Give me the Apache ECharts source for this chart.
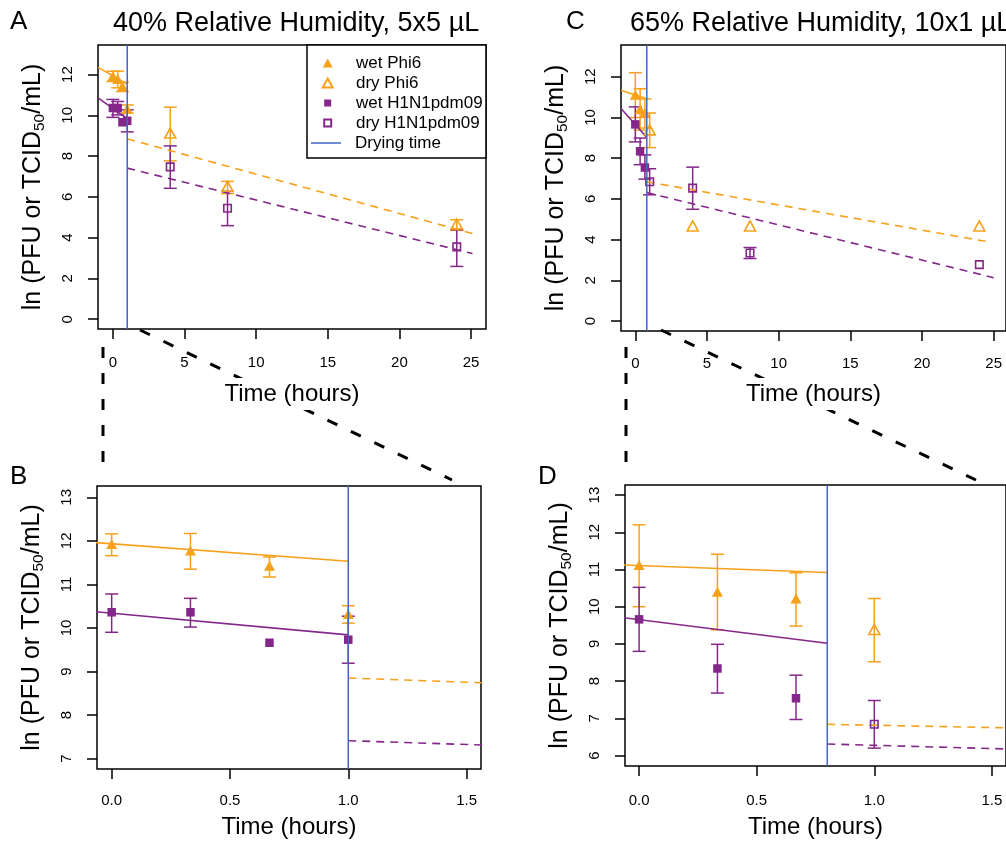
<!DOCTYPE html>
<html>
<head>
<meta charset="utf-8">
<script src="https://cdn.jsdelivr.net/npm/echarts@6/dist/echarts.min.js"></script>
<style>
html,body{margin:0;padding:0;background:#fff;}
#chart{width:1006px;height:841px;}
</style>
</head>
<body>
<div id="chart"></div>
<script>
// ---------------- DATA ----------------
// rows: [time (hours), ln titre, lower error, upper error]
// 40% RH, 5x5 µL  (panels A and B)
const rh40WetPhi6 = [[0, 11.93, 11.66, 12.16], [0.333, 11.78, 11.35, 12.17], [0.667, 11.43, 11.17, 11.63], [1, 10.32, 10.11, 10.51]];
const rh40DryPhi6 = [[4, 9.13, 7.77, 10.40], [8, 6.52, 6.16, 6.76], [24, 4.67, 4.36, 4.88]];
const rh40WetH1N1 = [[0, 10.36, 9.90, 10.78], [0.333, 10.36, 10.02, 10.68], [0.667, 9.66, null, null], [1, 9.73, 9.19, 10.27]];
const rh40DryH1N1 = [[4, 7.47, 6.42, 8.50], [8, 5.44, 4.59, 6.27], [24, 3.55, 2.59, 4.39]];
// fitted decay lines: [time, value] end points
const rh40WetPhi6Fit = [[-1.04, 12.35], [1, 11.53]];
const rh40WetH1N1Fit = [[-1.04, 10.86], [1, 9.84]];
const rh40DryPhi6Fit = [[1, 8.85], [25.1, 4.20]];
const rh40DryH1N1Fit = [[1, 7.41], [25.1, 3.22]];
const rh40DryingTime = 1.0;

// 65% RH, 10x1 µL  (panels C and D)
const rh65WetPhi6 = [[0, 11.12, 10.00, 12.20], [0.333, 10.40, 9.38, 11.41], [0.667, 10.22, 9.48, 10.91]];
const rh65DryPhi6 = [[1, 9.39, 8.52, 10.22], [4, 4.67, null, null], [8, 4.67, null, null], [24, 4.67, null, null]];
const rh65WetH1N1 = [[0, 9.66, 8.80, 10.52], [0.333, 8.34, 7.68, 8.99], [0.667, 7.54, 6.97, 8.16]];
const rh65DryH1N1 = [[1, 6.84, 6.20, 7.48], [4, 6.53, 5.49, 7.56], [8, 3.34, 3.07, 3.61], [24, 2.77, null, null]];
const rh65WetPhi6Fit = [[-1, 11.34], [0.8, 10.92]];
const rh65WetH1N1Fit = [[-1, 10.44], [0.8, 9.02]];
const rh65DryPhi6Fit = [[0.8, 6.84], [24.8, 3.87]];
const rh65DryH1N1Fit = [[0.8, 6.31], [25, 2.13]];
const rh65DryingTime = 0.8;

// ticks and labels
const xTicksLong = [0, 5, 10, 15, 20, 25];
const xTicksShort = [0, 0.5, 1, 1.5];
const yTicksA = [0, 2, 4, 6, 8, 10, 12];
const yTicksB = [7, 8, 9, 10, 11, 12, 13];
const yTicksC = [0, 2, 4, 6, 8, 10, 12];
const yTicksD = [6, 7, 8, 9, 10, 11, 12, 13];
const panelTitles = ['40% Relative Humidity, 5x5 µL', '65% Relative Humidity, 10x1 µL'];
const panelLetters = ['A', 'B', 'C', 'D'];
const legendNames = ['wet Phi6', 'dry Phi6', 'wet H1N1pdm09', 'dry H1N1pdm09', 'Drying time'];
const xAxisTitle = 'Time (hours)';

// ---------------- STYLE / LAYOUT ----------------
const ORANGE = '#F7A11A', PURPLE = '#84278A', BLUE = '#4565C0';
const FONT = '"Liberation Sans", Arial, Helvetica, sans-serif';

const rh40 = {wp: rh40WetPhi6, dp: rh40DryPhi6, wh: rh40WetH1N1, dh: rh40DryH1N1,
  fwp: rh40WetPhi6Fit, fwh: rh40WetH1N1Fit, fdp: rh40DryPhi6Fit, fdh: rh40DryH1N1Fit, dt: rh40DryingTime};
const rh65 = {wp: rh65WetPhi6, dp: rh65DryPhi6, wh: rh65WetH1N1, dh: rh65DryH1N1,
  fwp: rh65WetPhi6Fit, fwh: rh65WetH1N1Fit, fdp: rh65DryPhi6Fit, fdh: rh65DryH1N1Fit, dt: rh65DryingTime};

const panels = [
  {grid: {left: 98, top: 45, width: 388, height: 284}, x: [-1.04, 26.04], y: [-0.48, 13.45], xt: xTicksLong, yt: yTicksA, d: rh40, fmt: v => String(v), lm: 26, ng: 49},
  {grid: {left: 97, top: 486, width: 384, height: 283}, x: [-0.062, 1.561], y: [6.76, 13.26], xt: xTicksShort, yt: yTicksB, d: rh40, fmt: v => v.toFixed(1), lm: 24, ng: 42},
  {grid: {left: 621, top: 45, width: 385, height: 286}, x: [-1, 25.86], y: [-0.49, 13.56], xt: xTicksLong, yt: yTicksC, d: rh65, fmt: v => String(v), lm: 25, ng: 47},
  {grid: {left: 625, top: 485, width: 381, height: 281}, x: [-0.06, 1.56], y: [5.72, 13.27], xt: xTicksShort, yt: yTicksD, d: rh65, fmt: v => v.toFixed(1), lm: 27, ng: 45}
];

function errRender(color) {
  return function (params, api) {
    const lo = api.value(2), hi = api.value(3);
    if (lo == null || hi == null || isNaN(lo) || isNaN(hi)) return null;
    const t = api.value(0);
    const a = api.coord([t, hi]), b = api.coord([t, lo]);
    const w = 6.5;
    const st = {stroke: color, lineWidth: 1.5, fill: null};
    return {type: 'group', children: [
      {type: 'line', shape: {x1: a[0], y1: a[1], x2: b[0], y2: b[1]}, style: st},
      {type: 'line', shape: {x1: a[0] - w, y1: a[1], x2: a[0] + w, y2: a[1]}, style: st},
      {type: 'line', shape: {x1: b[0] - w, y1: b[1], x2: b[0] + w, y2: b[1]}, style: st}
    ]};
  };
}

const grids = [], xAxes = [], yAxes = [], series = [];
panels.forEach((p, i) => {
  grids.push(Object.assign({show: true, borderColor: '#000', borderWidth: 1.5, backgroundColor: 'transparent',
    containLabel: false, outerBoundsMode: 'none'}, p.grid));
  xAxes.push({
    type: 'value', gridIndex: i, min: p.x[0], max: p.x[1],
    axisLine: {show: false, onZero: false}, splitLine: {show: false},
    axisTick: {show: true, inside: false, length: 10, lineStyle: {color: '#000', width: 1.5}, customValues: p.xt},
    axisLabel: {show: true, customValues: p.xt, formatter: p.fmt, margin: p.lm, fontSize: 15, color: '#000', fontFamily: FONT},
    name: xAxisTitle, nameLocation: 'middle', nameGap: p.ng,
    nameTextStyle: {fontSize: 24, color: '#000', fontFamily: FONT, backgroundColor: '#fff', padding: [4, 6, 4, 6]}
  });
  yAxes.push({
    type: 'value', gridIndex: i, min: p.y[0], max: p.y[1],
    axisLine: {show: false, onZero: false}, splitLine: {show: false},
    axisTick: {show: true, inside: false, length: 10, lineStyle: {color: '#000', width: 1.5}, customValues: p.yt},
    axisLabel: {show: true, customValues: p.yt, rotate: 90, margin: 23, fontSize: 15, color: '#000', fontFamily: FONT},
    name: '{a|ln (PFU or TCID}{s|50}{a|/mL)}', nameLocation: 'middle', nameGap: 50,
    nameTextStyle: {color: '#000', fontFamily: FONT, rich: {
      a: {fontSize: 25, lineHeight: 29, color: '#000', fontFamily: FONT},
      s: {fontSize: 15.5, lineHeight: 15.5, verticalAlign: 'bottom', color: '#000', fontFamily: FONT}
    }}
  });
  const d = p.d;
  const groups = [
    {key: 'wp', name: legendNames[0], color: ORANGE, symbol: 'triangle', size: [11, 10], filled: true},
    {key: 'dp', name: legendNames[1], color: ORANGE, symbol: 'triangle', size: [11, 10], filled: false},
    {key: 'wh', name: legendNames[2], color: PURPLE, symbol: 'rect', size: 8.5, filled: true},
    {key: 'dh', name: legendNames[3], color: PURPLE, symbol: 'rect', size: 7.5, filled: false}
  ];
  groups.forEach(g => {
    series.push({
      type: 'custom', name: g.name + ' error', xAxisIndex: i, yAxisIndex: i, clip: true,
      data: d[g.key], encode: {x: 0, y: 1}, renderItem: errRender(g.color), silent: true, z: 2
    });
  });
  const fits = [
    {key: 'fwp', color: ORANGE, dash: 'solid'},
    {key: 'fwh', color: PURPLE, dash: 'solid'},
    {key: 'fdp', color: ORANGE, dash: [8, 6]},
    {key: 'fdh', color: PURPLE, dash: [8, 6]}
  ];
  fits.forEach(f => {
    series.push({
      type: 'line', name: f.key + ' fit', xAxisIndex: i, yAxisIndex: i, data: d[f.key],
      symbol: 'none', showSymbol: false, clip: true, silent: true, z: 3,
      lineStyle: {color: f.color, width: 1.6, type: f.dash}, itemStyle: {color: f.color}
    });
  });
  groups.forEach(g => {
    series.push({
      type: 'scatter', name: g.name, xAxisIndex: i, yAxisIndex: i, clip: true,
      data: d[g.key], encode: {x: 0, y: 1}, symbol: g.symbol, symbolSize: g.size, z: 4,
      itemStyle: g.filled ? {color: g.color, borderWidth: 0, opacity: 1}
                          : {color: 'rgba(255,255,255,0)', borderColor: g.color, borderWidth: 1.6, opacity: 1}
    });
  });
  series.push({
    type: 'line', name: legendNames[4], xAxisIndex: i, yAxisIndex: i,
    data: [[d.dt, p.y[0]], [d.dt, p.y[1]]],
    symbol: 'none', showSymbol: false, clip: true, silent: true, z: 5,
    lineStyle: {color: BLUE, width: 1.5}, itemStyle: {color: BLUE}
  });
});

// decorations: panel letters, titles, legend frame, zoom connector lines
const graphic = [];
const letterPos = [[10, 22], [10, 477], [566, 22], [538, 477]];
panelLetters.forEach((L, k) => {
  graphic.push({type: 'text', x: letterPos[k][0], y: letterPos[k][1],
    style: {text: L, fontSize: 26, fill: '#000', fontFamily: FONT, align: 'left', verticalAlign: 'middle'}});
});
const titlePos = [[113, 24], [630, 24]];
panelTitles.forEach((t, k) => {
  graphic.push({type: 'text', x: titlePos[k][0], y: titlePos[k][1],
    style: {text: t, fontSize: 27, fill: '#000', fontFamily: FONT, align: 'left', verticalAlign: 'middle'}});
});
graphic.push({type: 'rect', z: 8, silent: true, shape: {x: 307, y: 45, width: 179, height: 113},
  style: {fill: '#fff', stroke: '#000', lineWidth: 1.5}});
const connectors = [
  [103, 347, 103, 473], [140, 330, 452, 480],
  [626, 347, 626, 473], [661, 330, 976, 480]
];
connectors.forEach(c => {
  graphic.push({type: 'line', z: -1, silent: true, shape: {x1: c[0], y1: c[1], x2: c[2], y2: c[3]},
    style: {stroke: '#000', lineWidth: 3, lineDash: [11, 15]}});
});

function legendBlock(left, top, iw, ih, padLeft, data) {
  return {
    orient: 'vertical', padding: 0, itemGap: 3, selectedMode: false, z: 10,
    left: left, top: top, itemWidth: iw, itemHeight: ih,
    textStyle: {fontSize: 17, color: '#000', fontFamily: FONT, padding: [0, 0, 0, padLeft]},
    backgroundColor: 'transparent', borderWidth: 0, data: data
  };
}

const chart = echarts.init(document.getElementById('chart'), null, {renderer: 'canvas'});
chart.setOption({
  animation: false,
  backgroundColor: '#fff',
  textStyle: {fontFamily: FONT},
  grid: grids,
  xAxis: xAxes,
  yAxis: yAxes,
  legend: [
    legendBlock(321.7, 54.5, 10, 9, 18.3, [legendNames[0], legendNames[1]]),
    legendBlock(323.2, 94.5, 7, 7, 19.8, [legendNames[2], legendNames[3]]),
    legendBlock(311, 134.5, 30, 10, 9, [{name: legendNames[4], icon: 'path://M0,0L40,0L40,2L0,2Z'}])
  ],
  graphic: graphic,
  series: series
});
</script>
</body>
</html>
